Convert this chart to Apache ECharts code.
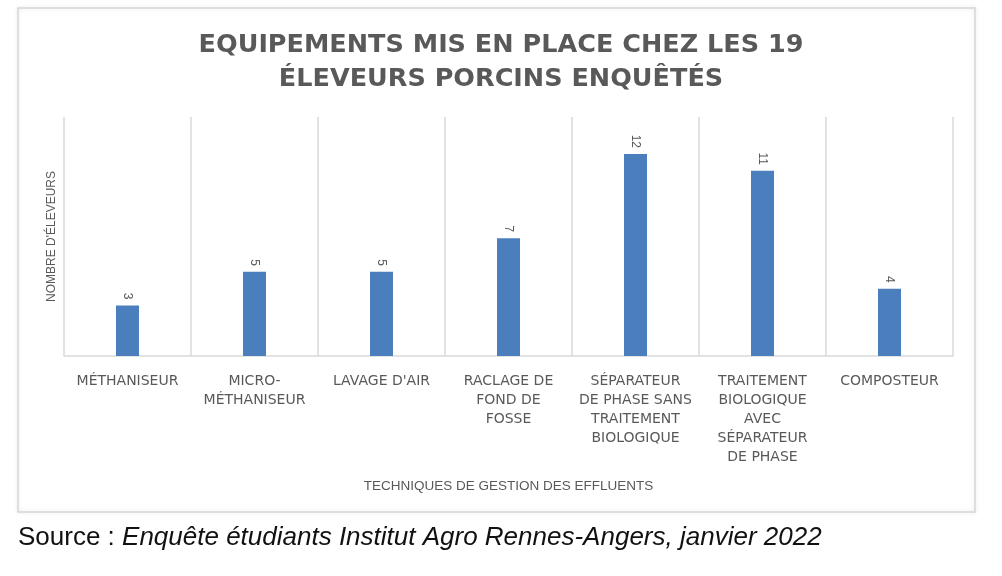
<!DOCTYPE html>
<html>
<head>
<meta charset="utf-8">
<script src="https://cdn.jsdelivr.net/npm/echarts@6/dist/echarts.min.js"></script>
<style>
  html, body { margin: 0; padding: 0; background: #fff; }
  #main { width: 1002px; height: 576px; }
</style>
</head>
<body>
<div id="main"></div>
<script>
var categories = [
    'MÉTHANISEUR',
    'MICRO-\nMÉTHANISEUR',
    "LAVAGE D'AIR",
    'RACLAGE DE\nFOND DE\nFOSSE',
    'SÉPARATEUR\nDE PHASE SANS\nTRAITEMENT\nBIOLOGIQUE',
    'TRAITEMENT\nBIOLOGIQUE\nAVEC\nSÉPARATEUR\nDE PHASE',
    'COMPOSTEUR'
];
var eleveurs = [3, 5, 5, 7, 12, 11, 4];

var titleText = 'EQUIPEMENTS MIS EN PLACE CHEZ LES 19\nÉLEVEURS PORCINS ENQUÊTÉS';
var xName = 'TECHNIQUES DE GESTION DES EFFLUENTS';
var yName = "NOMBRE D'ÉLEVEURS";

var myChart = echarts.init(document.getElementById('main'));

var chartOptions = {
    backgroundColor: '#fff',
    animation: false,
    title: [{
        text: titleText,
        left: 'center',
        top: 23,
        textStyle: {
            fontFamily: 'DejaVu Sans',
            fontWeight: 'bold',
            fontSize: 25.5,
            lineHeight: 34,
            color: '#595959'
        }
    }, {
        text: '{a|Source : }{b|Enquête étudiants Institut Agro Rennes-Angers, janvier 2022}',
        left: 13,
        top: 520,
        textStyle: {
            rich: {
                a: { fontFamily: 'Liberation Sans', fontWeight: 'normal', fontSize: 26, color: '#111' },
                b: { fontFamily: 'Liberation Sans', fontWeight: 'normal', fontSize: 26, fontStyle: 'italic', color: '#111' }
            }
        }
    }],
    graphic: [{
        type: 'rect',
        shape: { x: 18, y: 8, width: 957, height: 504 },
        style: {
            fill: 'none',
            stroke: '#d6d6d6',
            lineWidth: 1.5,
            shadowColor: 'rgba(0,0,0,0.12)',
            shadowBlur: 4
        },
        z: -1
    }],
    grid: {
        left: 64,
        right: 49,
        top: 117,
        bottom: 220
    },
    xAxis: {
        type: 'category',
        data: categories,
        name: xName,
        nameLocation: 'middle',
        nameGap: 123,
        nameTextStyle: {
            fontFamily: 'Liberation Sans',
            fontSize: 13.5,
            color: '#595959'
        },
        axisLine: { lineStyle: { color: '#d9d9d9', width: 1.5 } },
        axisTick: { show: false },
        splitLine: { show: true, lineStyle: { color: '#d9d9d9', width: 1.5 } },
        axisLabel: {
            interval: 0,
            margin: 16,
            fontFamily: 'DejaVu Sans',
            fontSize: 14,
            lineHeight: 19,
            color: '#595959',
            align: 'center',
            verticalAlign: 'top'
        }
    },
    yAxis: {
        type: 'value',
        min: 0,
        max: 14.2,
        name: yName,
        nameLocation: 'middle',
        nameGap: 6,
        nameTextStyle: {
            fontFamily: 'Liberation Sans',
            fontSize: 12,
            color: '#595959'
        },
        axisLine: { show: false },
        axisTick: { show: false },
        axisLabel: { show: false },
        splitLine: { show: false }
    },
    series: [{
        type: 'bar',
        data: eleveurs,
        barWidth: 23,
        itemStyle: { color: '#4a7ebc' },
        label: {
            show: true,
            position: 'top',
            rotate: -90,
            distance: 6,
            align: 'right',
            verticalAlign: 'middle',
            fontFamily: 'Liberation Sans',
            fontSize: 12,
            color: '#595959'
        }
    }]
};

myChart.setOption(chartOptions, true);
</script>
</body>
</html>
